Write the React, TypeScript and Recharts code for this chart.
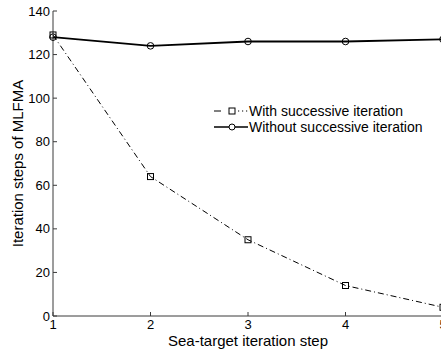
import React from 'react';
import { LineChart, Line, XAxis, YAxis, Legend, Label } from 'recharts';

const steps = [1, 2, 3, 4, 5];
const withSuccessive = [129, 64, 35, 14, 4];
const withoutSuccessive = [128, 124, 126, 126, 127];
const xTicks = [1, 2, 3, 4, 5];
const yTicks = [0, 20, 40, 60, 80, 100, 120, 140];
const seriesNames = ['With successive iteration', 'Without successive iteration'];

const data = steps.map((s, i) => ({
  step: s,
  withS: withSuccessive[i],
  withoutS: withoutSuccessive[i],
}));

const FONT = '"Liberation Sans", Arial, Helvetica, sans-serif';
const AXIS = '#3a3a3a';

const SquareDot = (props: any) => {
  const { cx, cy } = props;
  if (cx == null || cy == null) return null;
  return <rect x={cx - 3} y={cy - 3} width={6} height={6} fill="none" stroke="#000" strokeWidth={1} />;
};

const CircleDot = (props: any) => {
  const { cx, cy } = props;
  if (cx == null || cy == null) return null;
  return <circle cx={cx} cy={cy} r={3.3} fill="none" stroke="#000" strokeWidth={1} />;
};

const LegendContent = () => (
  <div style={{ fontFamily: FONT, fontSize: 14, color: '#000', lineHeight: '16px' }}>
    <div style={{ display: 'flex', alignItems: 'center', height: 16 }}>
      <svg width={34} height={16}>
        <line x1={0} y1={8} x2={7} y2={8} stroke="#000" strokeWidth={1} />
        <rect x={15} y={5} width={6} height={6} fill="#fff" stroke="#000" strokeWidth={1} />
        <line x1={24} y1={8} x2={25.2} y2={8} stroke="#000" strokeWidth={1} />
        <line x1={28} y1={8} x2={29.2} y2={8} stroke="#000" strokeWidth={1} />
        <line x1={32} y1={8} x2={33.2} y2={8} stroke="#000" strokeWidth={1} />
      </svg>
      <span style={{ marginLeft: 1 }}>{seriesNames[0]}</span>
    </div>
    <div style={{ display: 'flex', alignItems: 'center', height: 16 }}>
      <svg width={34} height={16}>
        <line x1={0} y1={8} x2={34} y2={8} stroke="#000" strokeWidth={1.6} />
        <circle cx={18} cy={8} r={3} fill="#fff" stroke="#000" strokeWidth={1} />
      </svg>
      <span style={{ marginLeft: 1 }}>{seriesNames[1]}</span>
    </div>
  </div>
);

export default function App() {
  return (
    <div style={{ position: 'absolute', left: 0, top: 0, width: 441, height: 354, overflow: 'hidden', background: '#fff' }}>
      <LineChart
        width={470}
        height={354}
        data={data}
        margin={{ top: 11, right: 27, bottom: 0, left: 0 }}
        style={{ fontFamily: FONT }}
      >
        <XAxis
          xAxisId="bottom"
          dataKey="step"
          type="number"
          domain={[1, 5]}
          ticks={xTicks}
          height={38}
          stroke={AXIS}
          tickSize={-4}
          tickMargin={8}
          tick={{ fill: '#000', fontSize: 13 }}
          interval={0}
        >
          <Label
            content={(p: any) => {
              const vb = p.viewBox;
              return (
                <text x={vb.x + vb.width / 2} y={vb.y + 30} textAnchor="middle" fontSize={15} fill="#000">
                  Sea-target iteration step
                </text>
              );
            }}
          />
        </XAxis>
        <XAxis
          xAxisId="top"
          orientation="top"
          dataKey="step"
          type="number"
          domain={[1, 5]}
          ticks={xTicks}
          height={0}
          stroke={AXIS}
          tickSize={-4}
          tickFormatter={() => ''}
          interval={0}
        />
        <YAxis
          yAxisId="left"
          domain={[0, 140]}
          ticks={yTicks}
          width={53}
          stroke={AXIS}
          tickSize={-4}
          tickMargin={7}
          tick={{ fill: '#000', fontSize: 13 }}
          interval={0}
        >
          <Label
            content={(p: any) => {
              const vb = p.viewBox;
              const cy = vb.y + vb.height / 2;
              return (
                <text x={23} y={cy} transform={`rotate(-90 23 ${cy})`} textAnchor="middle" fontSize={15} fill="#000">
                  Iteration steps of MLFMA
                </text>
              );
            }}
          />
        </YAxis>
        <YAxis
          yAxisId="right"
          orientation="right"
          domain={[0, 140]}
          ticks={yTicks}
          width={0}
          stroke={AXIS}
          tickSize={-4}
          tickFormatter={() => ''}
          interval={0}
        />
        <Legend
          layout="vertical"
          verticalAlign="middle"
          align="center"
          content={<LegendContent />}
          wrapperStyle={{ position: 'absolute', left: 214, top: 103, width: 225, margin: 0 }}
        />
        <Line
          xAxisId="bottom"
          yAxisId="left"
          dataKey="withS"
          name={seriesNames[0]}
          stroke="#000"
          strokeWidth={1}
          strokeDasharray="6 3 1 3"
          dot={<SquareDot />}
          activeDot={false}
          isAnimationActive={false}
          type="linear"
        />
        <Line
          xAxisId="bottom"
          yAxisId="left"
          dataKey="withoutS"
          name={seriesNames[1]}
          stroke="#000"
          strokeWidth={1.8}
          dot={<CircleDot />}
          activeDot={false}
          isAnimationActive={false}
          type="linear"
        />
      </LineChart>
    </div>
  );
}
